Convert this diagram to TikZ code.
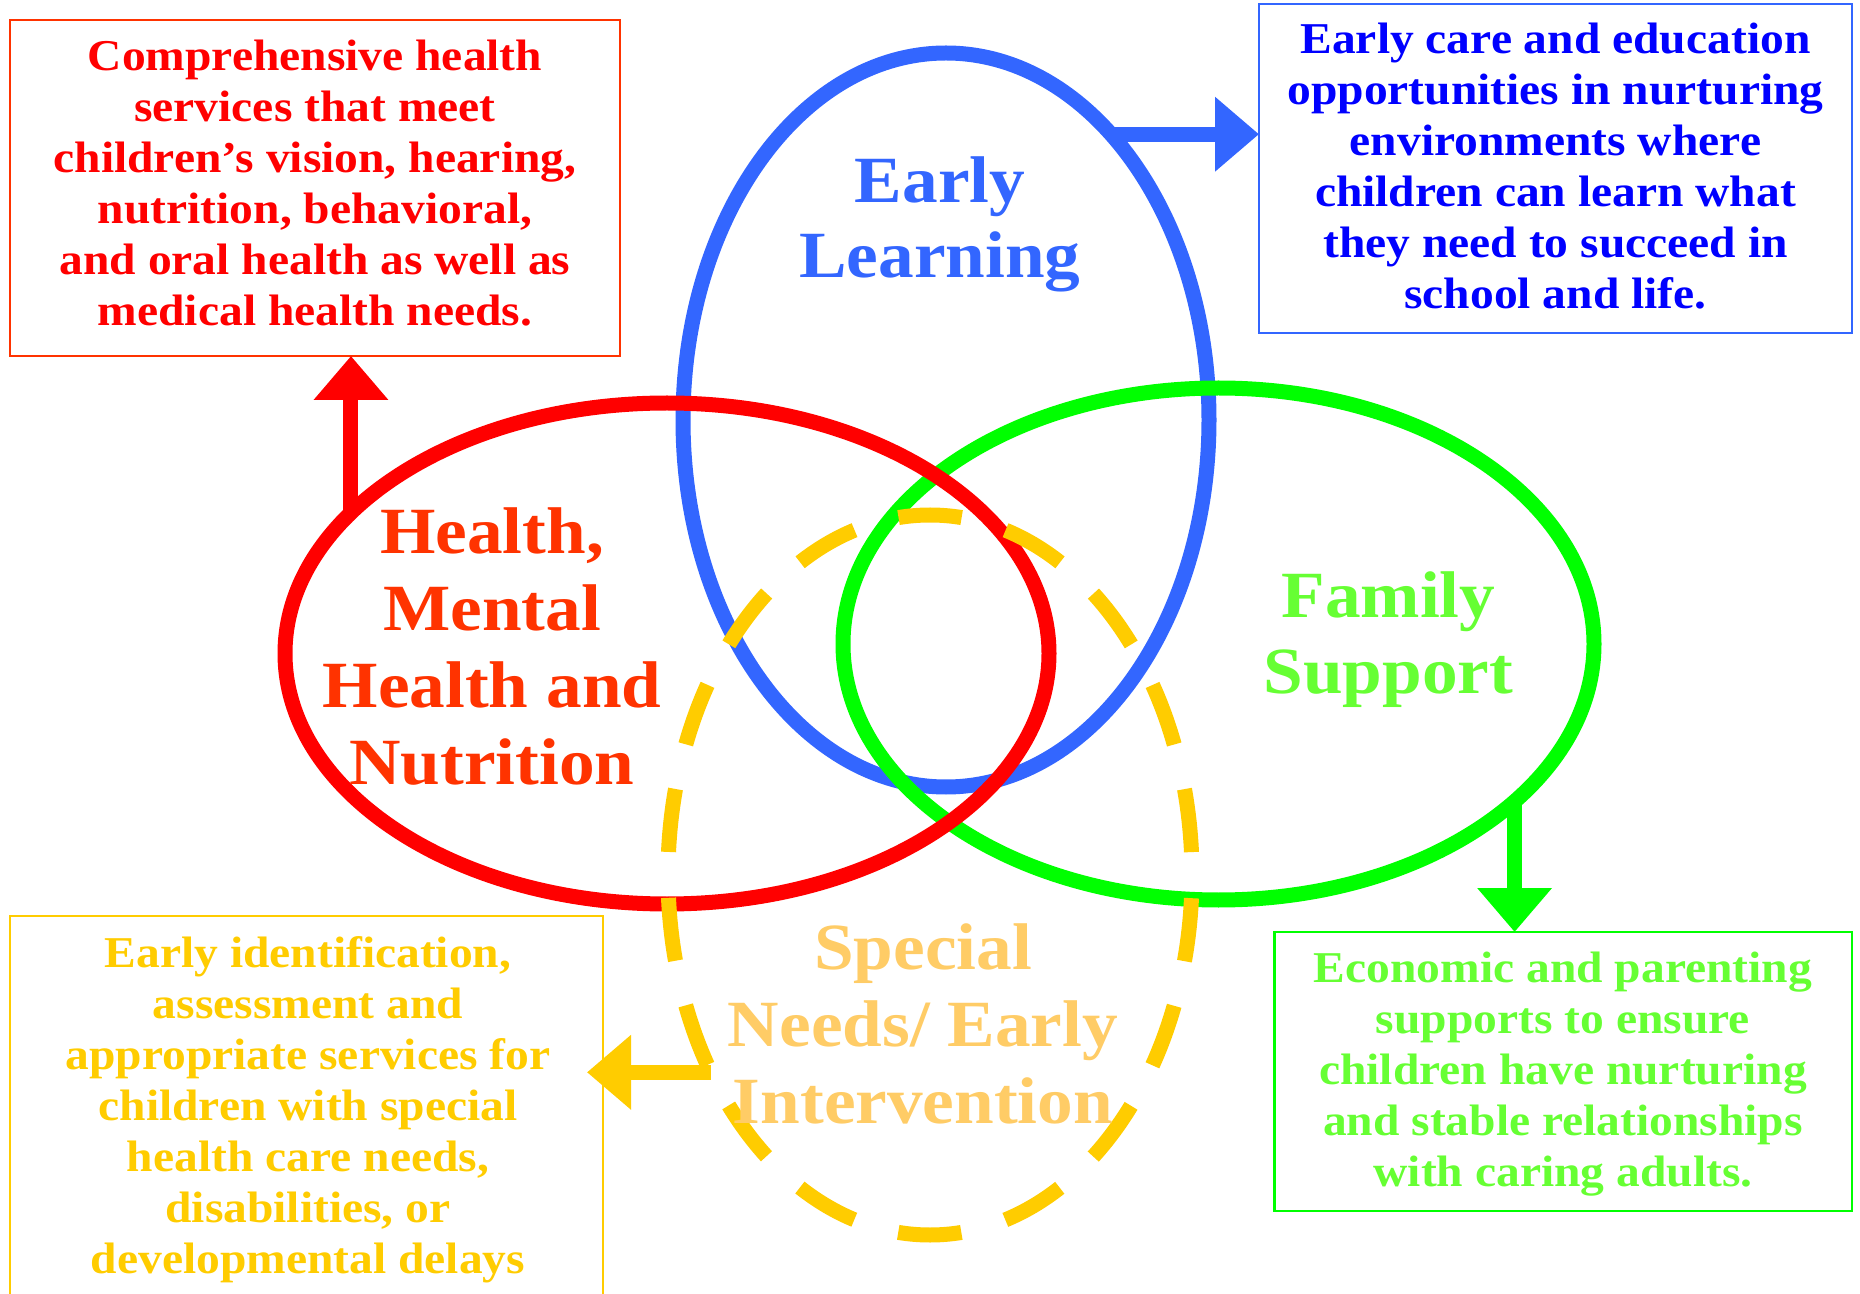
\documentclass[tikz,border=0pt]{standalone}
\usepackage{fontspec}
\setmainfont{Liberation Serif}[FakeStretch=1.08]
\usetikzlibrary{shapes.geometric,arrows.meta}
\definecolor{cBlue}{HTML}{3366FF}
\definecolor{cBlueTxt}{HTML}{0000FF}
\definecolor{cRed}{HTML}{FF0000}
\definecolor{cRedTxt}{HTML}{FF3300}
\definecolor{cGreen}{HTML}{00FF00}
\definecolor{cGreenTxt}{HTML}{66FF33}
\definecolor{cYel}{HTML}{FFCC00}
\definecolor{cYelTxt}{HTML}{FFCC66}
\newcommand{\topstrut}{\rule{0pt}{1em}}
\begin{document}
\begin{tikzpicture}[x=0.5pt,y=-0.5pt,
  ring/.style={ellipse, draw, outer sep=0pt, inner sep=0pt, line width=7.5pt},
  infobox/.style={rectangle, draw, line width=1.25pt, inner sep=0pt, outer sep=0pt},
  boxtext/.style={anchor=north, inner sep=0pt, align=center, font=\fontsize{22}{25.5}\selectfont\bfseries},
  bigtext/.style={anchor=north, inner sep=0pt, align=center, font=\fontsize{33}{38.5}\selectfont\bfseries},
  conn/.style={line width=7.5pt, -{Triangle[width=36pt,length=22pt]}},
]
\useasboundingbox (0,0) rectangle (1860,1294);
\clip (0,0) rectangle (1860,1294);
\fill[white] (0,0) rectangle (1860,1294);

% circles
\node[ring, draw=cBlue, minimum width=263pt, minimum height=367pt] (blueell) at (946,420) {};
\node[ring, draw=cGreen, minimum width=375.5pt, minimum height=256pt] (greenell) at (1218.5,644) {};
\node[ring, draw=cRed, minimum width=382pt, minimum height=250.5pt] (redell) at (667,653.5) {};
\node[ring, draw=cYel, dash pattern=on 31.7pt off 22.917pt, dash phase=43.16pt, minimum width=262pt, minimum height=360pt] (yelell) at (930,875) {};

% boxes
\node[infobox, draw=cRedTxt, minimum width=305pt, minimum height=168pt] (redbox) at (315,188) {};
\node[infobox, draw=cBlue, minimum width=296.5pt, minimum height=164.5pt] (bluebox) at (1555.5,168.5) {};
\node[infobox, draw=cYel, minimum width=296.5pt, minimum height=193pt] (yelbox) at (306.5,1109) {};
\node[infobox, draw=cGreen, minimum width=288.75pt, minimum height=139.5pt] (greenbox) at (1563,1071.5) {};

% box texts
\node[boxtext, text=cRed] (redtxt) at (315,26) {\topstrut Comprehensive health\\services that meet\\children’s vision, hearing,\\nutrition, behavioral,\\and oral health as well as\\medical health needs.};
\node[boxtext, text=cBlueTxt] (bluetxt) at (1555.5,9) {\topstrut Early care and education\\opportunities in nurturing\\environments where\\children can learn what\\they need to succeed in\\school and life.};
\node[boxtext, text=cYel] (yeltxt) at (308,923) {\topstrut Early identification,\\assessment and\\appropriate services for\\children with special\\health care needs,\\disabilities, or\\developmental delays};
\node[boxtext, text=cGreenTxt] (greentxt) at (1563,938) {\topstrut Economic and parenting\\supports to ensure\\children have nurturing\\and stable relationships\\with caring adults.};

% circle labels
\node[bigtext, text=cBlue, font=\fontsize{33}{37.5}\selectfont\bfseries] (eltxt) at (940,136) {\topstrut Early\\Learning};
\node[bigtext, text=cRedTxt] (healthtxt) at (492,487) {\topstrut Health,\\Mental\\Health and\\Nutrition};
\node[bigtext, text=cGreenTxt, font=\fontsize{33}{38}\selectfont\bfseries] (famtxt) at (1388.5,551) {\topstrut Family\\Support};
\node[bigtext, text=cYelTxt] (sntxt) at (923,903) {\topstrut Special\\Needs/ Early\\Intervention};

% connectors
\draw[conn, cRed] (redell.156.86) -- (redell.156.86 |- redbox.south);
\draw[conn, cBlue] (blueell.60.49) -- (blueell.60.49 -| bluebox.west);
\draw[conn, cGreen] (greenell.332.1) -- (greenell.332.1 |- greenbox.north);
\draw[conn, cYel, shorten >=-8pt] (yelell.222.95) -- (yelell.222.95 -| yelbox.east);
\end{tikzpicture}
\end{document}
